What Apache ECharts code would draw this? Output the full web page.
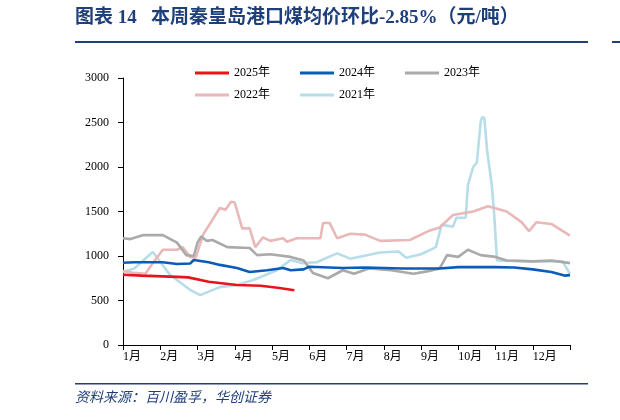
<!DOCTYPE html>
<html>
<head>
<meta charset="utf-8">
<script src="https://cdn.jsdelivr.net/npm/echarts@6/dist/echarts.min.js"></script>
<style>html,body{margin:0;padding:0;background:#fff}#main{width:620px;height:420px}</style>
</head>
<body>
<div id="main"></div>
<script>
// x = month position (0 = 1月 start), y = 元/吨
var monthLabels = ['1月','2月','3月','4月','5月','6月','7月','8月','9月','10月','11月','12月'];
var s2025 = [[0,790],[0.5,780],[1.45,765],[1.75,760],[2.3,710],[3.06,675],[3.7,665],[4.2,640],[4.6,615]];
var s2024 = [[0,925],[0.3,930],[1.07,930],[1.45,910],[1.8,915],[1.9,955],[2.3,930],[2.6,900],[3.06,865],[3.4,820],[3.87,840],[4.3,865],[4.5,840],[4.85,850],[5.0,880],[5.9,865],[6.5,870],[7.5,860],[8.5,860],[9.0,875],[10.0,875],[10.5,870],[11.0,850],[11.5,820],[11.85,780],[12,785]];
var s2023 = [[0,1200],[0.2,1190],[0.55,1235],[1.07,1235],[1.45,1150],[1.7,1010],[1.9,1000],[2.0,1150],[2.1,1220],[2.25,1170],[2.4,1180],[2.8,1100],[3.4,1090],[3.6,1010],[3.95,1020],[4.5,990],[4.85,950],[5.1,810],[5.5,750],[5.9,840],[6.2,800],[6.6,860],[7.2,840],[7.8,800],[8.2,830],[8.5,860],[8.7,1010],[9.0,990],[9.26,1070],[9.6,1010],[10.0,990],[10.3,950],[11.0,940],[11.5,950],[12,920]];
var s2022 = [[0,830],[0.3,810],[0.6,800],[0.8,920],[1.07,1070],[1.45,1070],[1.6,1100],[1.8,990],[1.95,980],[2.15,1240],[2.6,1540],[2.75,1520],[2.9,1610],[3.0,1600],[3.2,1310],[3.4,1310],[3.55,1100],[3.76,1210],[3.95,1170],[4.3,1200],[4.4,1160],[4.67,1200],[5.3,1200],[5.37,1370],[5.55,1370],[5.75,1200],[6.1,1250],[6.5,1240],[6.9,1170],[7.7,1180],[8.2,1280],[8.5,1320],[8.86,1460],[9.4,1500],[9.8,1560],[10.3,1500],[10.7,1380],[10.9,1280],[11.1,1380],[11.5,1360],[12,1230]];
var s2021 = [[0,820],[0.3,860],[0.8,1045],[1.26,790],[1.8,620],[2.07,560],[2.6,650],[3.06,675],[3.5,730],[4.13,840],[4.5,955],[4.8,920],[5.2,930],[5.75,1030],[6.1,970],[6.9,1040],[7.4,1050],[7.6,980],[8.0,1020],[8.4,1100],[8.55,1350],[8.86,1330],[8.95,1430],[9.2,1430],[9.26,1800],[9.4,2000],[9.5,2050],[9.6,2500],[9.64,2560],[9.7,2550],[9.77,2200],[9.9,1800],[9.96,1500],[10.04,950],[11.0,940],[11.8,940],[12,800]];

var chart = echarts.init(document.getElementById('main'));
var serif = '"Liberation Serif","Noto Sans CJK SC",serif';
function line(name, data, color, z) {
  return {name: name, type: 'line', data: data, showSymbol: false, z: z,
    lineStyle: {color: color, width: 2.6}, itemStyle: {color: color}};
}
var legendBase = {itemWidth: 34, itemHeight: 3, icon: 'rect', itemGap: 30,
  textStyle: {fontFamily: serif, fontSize: 12, color: '#000'}};
chart.setOption({
  animation: false,
  grid: {left: 123, right: 50, top: 78, bottom: 75},
  legend: [
    Object.assign({left: 190, top: 62, data: ['2025年','2024年','2023年']}, legendBase),
    Object.assign({left: 190, top: 84, data: ['2022年','2021年']}, legendBase)
  ],
  graphic: [
    {type: 'text', left: 75, top: 9, style: {text: '图表 14   本周秦皇岛港口煤均价环比-2.85%（元/吨）', fill: '#1f3f7a', font: 'bold 19px "Liberation Serif","Noto Sans CJK SC",serif'}},
    {type: 'rect', shape: {x: 75, y: 41, width: 513, height: 2}, style: {fill: '#1f3f7a'}},
    {type: 'rect', shape: {x: 612, y: 41, width: 8, height: 2}, style: {fill: '#1f3f7a'}},
    {type: 'rect', shape: {x: 75, y: 383, width: 513, height: 1.5}, style: {fill: '#1f3f7a'}},
    {type: 'text', left: 75, top: 390, style: {text: '资料来源：百川盈孚，华创证券', fill: '#1f3f7a', font: 'italic 14px "Noto Sans CJK SC",sans-serif'}}
  ],
  xAxis: {type: 'value', min: 0, max: 12, interval: 1,
    axisLine: {lineStyle: {color: '#000'}}, axisTick: {lineStyle: {color: '#000'}},
    splitLine: {show: false},
    axisLabel: {fontFamily: serif, fontSize: 12, color: '#000', align: 'left', margin: 6,
      formatter: function (v) { return v < 12 ? monthLabels[v] : ''; }}},
  yAxis: {type: 'value', min: 0, max: 3000, interval: 500,
    axisLine: {show: true, lineStyle: {color: '#000'}}, axisTick: {show: true, lineStyle: {color: '#000'}},
    splitLine: {show: false},
    axisLabel: {fontFamily: serif, fontSize: 12, color: '#000', margin: 14,
      formatter: function (v) { return String(v); }}},
  series: [
    line('2025年', s2025, '#e8141c', 5),
    line('2024年', s2024, '#0a5cb8', 4),
    line('2023年', s2023, '#aaaaaa', 3),
    line('2022年', s2022, '#e9b8b8', 2),
    line('2021年', s2021, '#b6dde8', 1)
  ]
});
</script>
</body>
</html>
